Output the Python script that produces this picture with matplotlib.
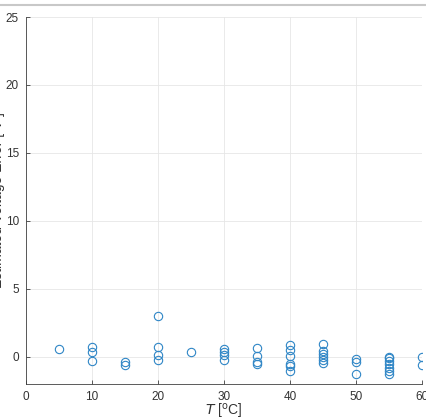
import numpy as np
import matplotlib.pyplot as plt
from matplotlib.lines import Line2D

# temperature groups and the estimated voltage error at each
temps = [5, 10, 15, 20, 25, 30, 35, 40, 45, 50, 55, 60]
err_5 = [0.56]
err_10 = [0.73, 0.34, -0.32]
err_15 = [-0.37, -0.61]
err_20 = [3.0, 0.73, 0.1, -0.22]
err_25 = [0.35]
err_30 = [0.56, 0.32, 0.12, -0.22]
err_35 = [0.66, 0.07, -0.39, -0.54]
err_40 = [0.88, 0.51, 0.07, -0.51, -0.7, -1.05]
err_45 = [0.93, 0.42, 0.2, 0.02, -0.2, -0.42]
err_50 = [-0.15, -0.4, -1.27]
err_55 = [0.0, -0.12, -0.32, -0.54, -0.8, -1.05, -1.27]
err_60 = [0.0, -0.59]
errs = [err_5, err_10, err_15, err_20, err_25, err_30,
        err_35, err_40, err_45, err_50, err_55, err_60]

plt.rcParams['font.family'] = ['Liberation Sans', 'DejaVu Sans']

fig = plt.figure(figsize=(4.26, 4.17), dpi=100)
ax = fig.add_axes([26/426, 1-384/417, 396/426, 367/417])

x = []
y = []
for t, e in zip(temps, errs):
    x += [t]*len(e)
    y += e
ax.plot(x, y, 'o', mfc='none', mec='#2f86c6', ms=6, mew=0.8)

ax.set_xlim(0, 60)
ax.set_ylim(-2, 25)
ax.set_xticks([0, 10, 20, 30, 40, 50, 60])
ax.set_yticks([0, 5, 10, 15, 20, 25])
ax.grid(True, color='#e6e6e6', lw=0.6)
ax.set_axisbelow(True)
for s in ['top', 'right']:
    ax.spines[s].set_visible(False)
for s in ['left', 'bottom']:
    ax.spines[s].set_color('#404040')
    ax.spines[s].set_linewidth(0.6)
ax.tick_params(direction='in', length=3, width=0.6, color='#404040',
               labelsize=8.5, labelcolor='#333333', pad=5)
ax.set_xlabel('$T$ [$^{\\mathrm{o}}$C]', fontsize=10, color='#333333', labelpad=-0.5)
ax.set_ylabel('Estimated Voltage Error [ V ]', fontsize=10, color='#333333')
ax.yaxis.set_label_coords(-0.052, 0.5)

fig.add_artist(Line2D([0, 1], [1-4.5/417, 1-4.5/417], color='#c8c8c8', lw=1.5))

fig.savefig('out.png', dpi=100)
